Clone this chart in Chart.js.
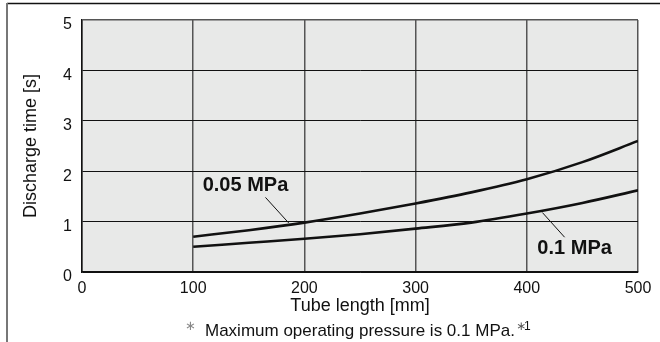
<!DOCTYPE html>
<html>
<head>
<meta charset="utf-8">
<script src="https://cdn.jsdelivr.net/npm/chart.js@4/dist/chart.umd.min.js"></script>
<style>
  html, body { margin: 0; padding: 0; background: #fff; }
  #wrap { width: 660px; height: 342px; position: relative; }
</style>
</head>
<body>
<div id="wrap"><canvas id="c" width="660" height="342"></canvas></div>
<script>
// ---- data ----
const tubeLength = [100, 150, 200, 250, 300, 350, 400, 450, 500];      // mm
const time005MPa = [0.70, 0.83, 0.98, 1.16, 1.36, 1.58, 1.84, 2.18, 2.60]; // s
const time01MPa  = [0.50, 0.58, 0.66, 0.75, 0.86, 0.98, 1.16, 1.37, 1.62]; // s
const seriesNames = ['0.05 MPa', '0.1 MPa'];
const xTicks = [0, 100, 200, 300, 400, 500];
const yTicks = [0, 1, 2, 3, 4, 5];
const xTitle = 'Tube length [mm]';
const yTitle = 'Discharge time [s]';
const footnote = 'Maximum operating pressure is 0.1 MPa.';

// callout anchors (data coordinates): label centre, leader start, leader end
const callouts = [
  { text: seriesNames[0], lx: 147, ly: 1.72, x0: 165, y0: 1.48, x1: 186, y1: 0.97 },
  { text: seriesNames[1], lx: 443, ly: 0.47, x0: 434, y0: 0.69, x1: 414, y1: 1.18 }
];

const toPts = (xs, ys) => xs.map((x, i) => ({ x, y: ys[i] }));

const decor = {
  id: 'decor',
  beforeDraw(chart) {
    const { ctx, chartArea: a } = chart;
    ctx.save();
    ctx.fillStyle = '#e8e9e8';
    ctx.fillRect(a.left, a.top, a.right - a.left, a.bottom - a.top);
    ctx.restore();
  },
  afterDraw(chart) {
    const { ctx } = chart;
    const xs = chart.scales.x, ys = chart.scales.y;
    ctx.save();
    // outer frame (top and left)
    ctx.strokeStyle = '#111';
    ctx.lineWidth = 1.5;
    ctx.beginPath(); ctx.moveTo(7, 3.5); ctx.lineTo(660, 3.5); ctx.stroke();
    ctx.strokeStyle = '#777';
    ctx.lineWidth = 2;
    ctx.beginPath(); ctx.moveTo(7, 3); ctx.lineTo(7, 342); ctx.stroke();

    // callouts
    callouts.forEach(c => {
      ctx.strokeStyle = '#111';
      ctx.lineWidth = 1;
      ctx.beginPath();
      ctx.moveTo(xs.getPixelForValue(c.x0), ys.getPixelForValue(c.y0));
      ctx.lineTo(xs.getPixelForValue(c.x1), ys.getPixelForValue(c.y1));
      ctx.stroke();
      ctx.fillStyle = '#111';
      ctx.font = 'bold 20px "Liberation Sans", Arial, sans-serif';
      ctx.textAlign = 'center';
      ctx.textBaseline = 'middle';
      ctx.fillText(c.text, xs.getPixelForValue(c.lx), ys.getPixelForValue(c.ly));
    });

    // footnote
    const fx = 205, fy = 331;
    ctx.textBaseline = 'alphabetic';
    ctx.textAlign = 'left';
    ctx.fillStyle = '#888';
    ctx.font = '13px "DejaVu Sans", sans-serif';
    ctx.fillText('\u2217', fx - 20, fy - 1);
    ctx.fillStyle = '#111';
    ctx.font = '17px "Liberation Sans", Arial, sans-serif';
    ctx.fillText(footnote, fx, fy + 5);
    const w = ctx.measureText(footnote).width;
    ctx.fillStyle = '#555';
    ctx.font = '12px "DejaVu Sans", sans-serif';
    ctx.fillText('\u2217', fx + w + 1, fy - 1);
    ctx.fillStyle = '#111';
    ctx.font = '12px "Liberation Sans", Arial, sans-serif';
    ctx.fillText('1', fx + w + 9, fy - 1);
    ctx.restore();
  }
};

new Chart(document.getElementById('c'), {
  type: 'line',
  data: {
    datasets: [
      { label: seriesNames[0], data: toPts(tubeLength, time005MPa) },
      { label: seriesNames[1], data: toPts(tubeLength, time01MPa) }
    ]
  },
  options: {
    responsive: false,
    animation: false,
    devicePixelRatio: 1,
    layout: { padding: { left: 0, right: 22, top: 20, bottom: 0 } },
    elements: {
      line: { borderColor: '#111', borderWidth: 2.6, tension: 0.4, cubicInterpolationMode: 'monotone', fill: false },
      point: { radius: 0, hoverRadius: 0 }
    },
    plugins: { legend: { display: false }, tooltip: { enabled: false } },
    scales: {
      x: {
        type: 'linear', min: 0, max: 500,
        afterBuildTicks: s => { s.ticks = xTicks.map(v => ({ value: v })); },
        afterFit: s => { s.height = 70; },
        grid: { color: '#555', lineWidth: 1.5, drawTicks: false },
        border: { color: '#111', width: 1.5 },
        ticks: { color: '#111', padding: 7, font: { family: '"Liberation Sans", Arial, sans-serif', size: 16 } },
        title: { display: true, text: xTitle, color: '#111', padding: { top: 0, bottom: 25 },
                 font: { family: '"Liberation Sans", Arial, sans-serif', size: 18 } }
      },
      y: {
        type: 'linear', min: 0, max: 5,
        afterBuildTicks: s => { s.ticks = yTicks.map(v => ({ value: v })); },
        afterFit: s => { s.width = 82; },
        grid: {
          color: c => c.tick && c.tick.value === 5 ? '#555' : '#111',
          lineWidth: c => c.tick && c.tick.value === 5 ? 1.5 : 1,
          drawTicks: false
        },
        border: { color: '#111', width: 1.5 },
        ticks: { color: '#111', padding: 10, labelOffset: 5, font: { family: '"Liberation Sans", Arial, sans-serif', size: 16 } },
        title: { display: true, text: yTitle, color: '#111', padding: { top: 20, bottom: 0 },
                 font: { family: '"Liberation Sans", Arial, sans-serif', size: 18 } }
      }
    }
  },
  plugins: [decor]
});
</script>
</body>
</html>
